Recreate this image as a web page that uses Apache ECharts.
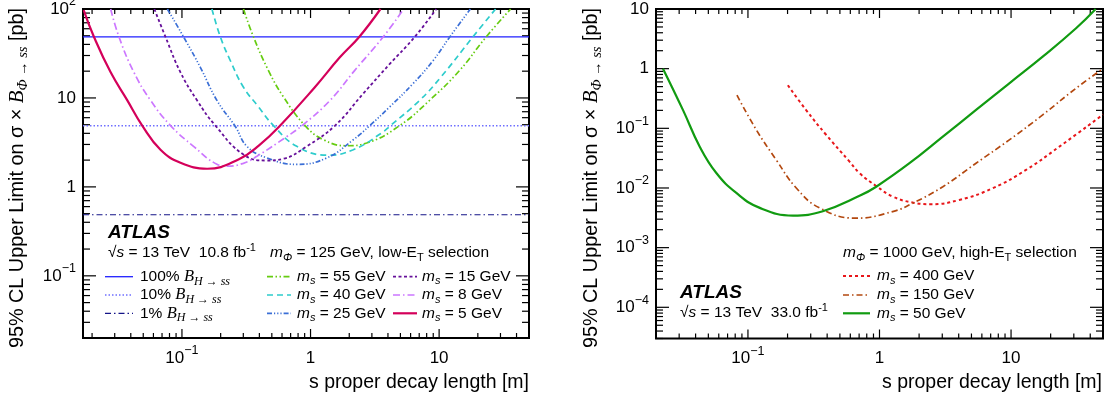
<!DOCTYPE html>
<html>
<head>
<meta charset="utf-8">
<script src="https://cdn.jsdelivr.net/npm/echarts@6.0.0/dist/echarts.min.js"></script>
<style>
html, body { margin: 0; padding: 0; background: #fff; }
#chart { width: 1112px; height: 403px; }
</style>
</head>
<body>
<div id="chart"></div>
<script>
const SANS = '"Liberation Sans", Arial, Helvetica, sans-serif';
const SERIF = '"Liberation Serif", "Times New Roman", serif';

// ---- plot frames
const lowGrid = { left: 83, top: 9, width: 446, height: 329 };
const highGrid = { left: 656, top: 9, width: 447, height: 329.5 };

// ---- axis ranges: s proper decay length [m] vs cross-section limit [pb]
const lowXRange = [0.017, 50];
const lowYRange = [0.02, 100];
const highXRange = [0.02, 50];
const highYRange = [3e-5, 10];

// ---- decade tick labels
const lowXTicks = [0.1, 1, 10];
const lowXLabels = ['{n|10}{sup|−1}', '{n|1}', '{n|10}'];
const lowYTicks = [0.1, 1, 10, 100];
const lowYLabels = ['{n|10}{sup|−1}', '{n|1}', '{n|10}', '{n|10}{sup|2}'];
const highXTicks = [0.1, 1, 10];
const highXLabels = ['{n|10}{sup|−1}', '{n|1}', '{n|10}'];
const highYTicks = [1e-4, 1e-3, 1e-2, 0.1, 1, 10];
const highYLabels = ['{n|10}{sup|−4}', '{n|10}{sup|−3}', '{n|10}{sup|−2}', '{n|10}{sup|−1}', '{n|1}', '{n|10}'];

// ---- SM Higgs reference: sigma x B(H->ss) for 100%, 10%, 1%
const higgsBrNames = ['B100', 'B10', 'B1'];
const higgsBrLimits = [48.6, 4.86, 0.486];

// ---- m_Phi = 125 GeV, low-ET selection
const ms55Len = [0.301, 0.36, 0.471, 0.615, 0.906, 1.26, 1.91, 2.73, 4.94, 8.43, 14.4, 23.2, 36];
const ms55Lim = [100, 48.5, 20.3, 10.3, 4.89, 3.39, 2.9, 3.11, 4.89, 9.4, 20.3, 48.5, 100];

const ms40Len = [0.171, 0.199, 0.238, 0.301, 0.394, 0.515, 0.782, 1.37, 2.15, 3.56, 4.19, 7.06, 10.3, 18.3, 27.5];
const ms40Lim = [100, 48.5, 26.2, 13.2, 7.94, 4.89, 2.86, 2.27, 2.62, 4.02, 4.89, 9.4, 17.1, 48.5, 100];

const ms25Len = [0.077, 0.103, 0.139, 0.187, 0.26, 0.32, 0.457, 0.782, 1.34, 2.15, 2.89, 4.13, 6.27, 8.96, 12.1, 17.5];
const ms25Lim = [100, 48.5, 22.1, 9.4, 4.77, 2.86, 2.12, 1.79, 2.12, 3.39, 4.89, 7.94, 14.5, 26.2, 48.5, 100];

const ms15Len = [0.061, 0.0745, 0.0974, 0.131, 0.182, 0.301, 0.457, 0.615, 0.935, 1.55, 2.57, 4.13, 6.46, 9.5];
const ms15Lim = [100, 48.5, 19.4, 9.4, 4.89, 2.31, 1.98, 2.07, 2.86, 4.89, 11.2, 24.1, 48.5, 100];

const ms8Len = [0.0279, 0.0324, 0.0423, 0.057, 0.0815, 0.123, 0.187, 0.224, 0.30, 0.383, 0.655, 0.86, 1.42, 2.2, 3.67, 5.3];
const ms8Lim = [100, 48.5, 19.4, 9.4, 4.89, 2.86, 1.8, 1.71, 1.84, 2.21, 3.69, 4.89, 9.4, 20.3, 48.5, 100];

const ms5Len = [0.0172, 0.0207, 0.0279, 0.0376, 0.0491, 0.0681, 0.0974, 0.157, 0.275, 0.4, 0.581, 1.08, 1.69, 2.39, 3.5];
const ms5Lim = [97, 48.5, 19.4, 9.4, 4.89, 2.62, 1.87, 1.60, 2.03, 2.95, 4.89, 13.2, 28.6, 48.5, 100];

// ---- m_Phi = 1000 GeV, high-ET selection
const ms400Len = [0.201, 0.277, 0.394, 0.592, 0.705, 0.944, 1.26, 1.79, 2.47, 4.04, 7.24, 13, 23.3, 50];
const ms400Lim = [0.527, 0.202, 0.0773, 0.0277, 0.0177, 0.0108, 0.00718, 0.00569, 0.00535, 0.0063, 0.0099, 0.0201, 0.0493, 0.17];

const ms150Len = [0.0825, 0.116, 0.164, 0.233, 0.35, 0.66, 1.26, 1.79, 3.03, 5.42, 9.7, 17.4, 31.2, 50];
const ms150Lim = [0.359, 0.0937, 0.0296, 0.01, 0.00464, 0.00312, 0.00402, 0.00556, 0.0105, 0.026, 0.064, 0.168, 0.47, 1.0];

const ms50Len = [0.0226, 0.0321, 0.043, 0.0575, 0.0816, 0.123, 0.22, 0.371, 0.705, 0.944, 1.69, 3.03, 5.42, 9.7, 17.4, 31.2, 44];
const ms50Lim = [1.0, 0.202, 0.0493, 0.0178, 0.00826, 0.00464, 0.00345, 0.00407, 0.00738, 0.0105, 0.026, 0.0726, 0.203, 0.569, 1.59, 4.75, 10];

// ---- line styles shared by the curves and their legend keys
const lineStyles = {
  B100: { color: '#1f1fff', dash: [], width: 1.3 },
  B10: { color: '#6f6fff', dash: [1.5, 2], width: 1.5 },
  B1: { color: '#141488', dash: [6, 3, 1.5, 3], width: 1.2 },
  ms55: { color: '#66cc11', dash: [6, 2.5, 1.5, 2.5, 1.5, 2.5], width: 1.7 },
  ms40: { color: '#2ecccc', dash: [6, 4], width: 1.7 },
  ms25: { color: '#3b6fd6', dash: [5, 2, 1.2, 2, 1.2, 2, 1.2, 2], width: 1.7 },
  ms15: { color: '#66109a', dash: [3, 2.5], width: 1.8 },
  ms8: { color: '#cc77ff', dash: [7, 3, 1.5, 3], width: 1.7 },
  ms5: { color: '#d4005a', dash: [], width: 2.2 },
  ms400: { color: '#e8161a', dash: [3, 3], width: 2 },
  ms150: { color: '#b3480f', dash: [6, 3, 1.5, 3], width: 1.7 },
  ms50: { color: '#119b11', dash: [], width: 2.2 }
};

function pairs(xs, ys) { return xs.map((x, i) => [x, ys[i]]); }

function decadeFormatter(ticks, labels) {
  return function (v) {
    const i = ticks.findIndex(t => Math.abs(Math.log10(v) - Math.log10(t)) < 1e-6);
    return i < 0 ? '' : labels[i];
  };
}

// 1..9 x 10^n positions inside a range (major at 1 x 10^n)
function decadeSteps(range) {
  const out = [];
  const lo = range[0], hi = range[1];
  for (let e = Math.floor(Math.log10(lo)); e <= Math.ceil(Math.log10(hi)); e++) {
    for (let m = 1; m <= 9; m++) {
      const v = m * Math.pow(10, e);
      if (v >= lo * (1 - 1e-9) && v <= hi * (1 + 1e-9)) out.push({ v: v, major: m === 1 });
    }
  }
  return out;
}

const labelRich = {
  n: { fontSize: 17, fontFamily: SANS, color: '#000', lineHeight: 20, verticalAlign: 'middle' },
  sup: { fontSize: 12.5, fontFamily: SANS, color: '#000', lineHeight: 20, verticalAlign: 'middle', padding: [0, 0, 14, 0] }
};

function logAxis(isX, idx, range, ticks, labels) {
  return {
    gridIndex: idx, type: 'log', logBase: 10, min: range[0], max: range[1],
    axisLine: { show: false, onZero: false }, axisTick: { show: false }, splitLine: { show: false },
    axisLabel: { show: true, formatter: decadeFormatter(ticks, labels), margin: isX ? 10 : 7, rich: labelRich, color: '#000' }
  };
}

function gridOf(g) {
  return Object.assign({ show: true, borderColor: '#000', borderWidth: 2, outerBoundsMode: 'none' }, g);
}

function curve(name, idx, xs, ys) {
  const s = lineStyles[name];
  return {
    name: name, type: 'line', xAxisIndex: idx, yAxisIndex: idx,
    data: pairs(xs, ys), symbol: 'none', smooth: 0.45, silent: true,
    lineStyle: { color: s.color, width: s.width, type: s.dash.length ? s.dash : 'solid' }, itemStyle: { color: s.color }
  };
}

function levelLine(i) {
  const s = lineStyles[higgsBrNames[i]];
  return {
    name: higgsBrNames[i], type: 'line', xAxisIndex: 0, yAxisIndex: 0,
    data: [[lowXRange[0], higgsBrLimits[i]], [lowXRange[1], higgsBrLimits[i]]],
    symbol: 'none', silent: true,
    lineStyle: { color: s.color, width: s.width, type: s.dash.length ? s.dash : 'solid' }, itemStyle: { color: s.color }
  };
}

const legendText = {
  B100: '{t|100% }{bi|B}{bs|H → ss}',
  B10: '{t|10% }{bi|B}{bs|H → ss}',
  B1: '{t|1% }{bi|B}{bs|H → ss}',
  ms55: '{i|m}{is|s}{t| = 55 GeV}',
  ms40: '{i|m}{is|s}{t| = 40 GeV}',
  ms25: '{i|m}{is|s}{t| = 25 GeV}',
  ms15: '{i|m}{is|s}{t| = 15 GeV}',
  ms8: '{i|m}{is|s}{t| = 8 GeV}',
  ms5: '{i|m}{is|s}{t| = 5 GeV}',
  ms400: '{i|m}{is|s}{t| = 400 GeV}',
  ms150: '{i|m}{is|s}{t| = 150 GeV}',
  ms50: '{i|m}{is|s}{t| = 50 GeV}'
};

// rich text for the annotations and legend entries
const noteRich = {
  t: { fontSize: 15.5, fontFamily: SANS, fill: '#000', lineHeight: 18, verticalAlign: 'middle' },
  i: { fontSize: 15.5, fontFamily: SANS, fontStyle: 'italic', fill: '#000', lineHeight: 18, verticalAlign: 'middle' },
  is: { fontSize: 11, fontFamily: SANS, fontStyle: 'italic', fill: '#000', lineHeight: 18, verticalAlign: 'middle', padding: [9, 0, 0, 0] },
  ss: { fontSize: 11, fontFamily: SANS, fill: '#000', lineHeight: 18, verticalAlign: 'middle', padding: [10, 0, 0, 0] },
  sp: { fontSize: 11, fontFamily: SANS, fill: '#000', lineHeight: 18, verticalAlign: 'middle', padding: [0, 0, 10, 0] },
  bi: { fontSize: 16.5, fontFamily: SERIF, fontStyle: 'italic', fill: '#000', lineHeight: 18, verticalAlign: 'middle' },
  bs: { fontSize: 12, fontFamily: SERIF, fontStyle: 'italic', fill: '#000', lineHeight: 18, verticalAlign: 'middle', padding: [10, 0, 0, 0] }
};
const titleRich = {
  t: { fontSize: 19.8, fontFamily: SANS, fill: '#000', lineHeight: 22, verticalAlign: 'middle' },
  bi: { fontSize: 20.8, fontFamily: SERIF, fontStyle: 'italic', fill: '#000', lineHeight: 22, verticalAlign: 'middle' },
  bs: { fontSize: 14.5, fontFamily: SERIF, fontStyle: 'italic', fill: '#000', lineHeight: 22, verticalAlign: 'middle', padding: [11, 0, 0, 0] }
};
const yTitle = '{t|95% CL Upper Limit on σ × }{bi|B}{bs|Φ → ss}{t| [pb]}';

function note(x, y, text) {
  return {
    type: 'text', x: x, y: y, silent: true,
    style: { text: text, rich: noteRich, fill: '#000', fontFamily: SANS, fontSize: 15.5, align: 'left', verticalAlign: 'middle' }
  };
}
function atlas(x, y) {
  return { type: 'text', x: x, y: y, silent: true,
    style: { text: 'ATLAS', fill: '#000', fontFamily: SANS, fontSize: 19, fontWeight: 'bold', fontStyle: 'italic', align: 'left', verticalAlign: 'middle' } };
}
function xTitle(x) {
  return { type: 'text', x: x, y: 383, silent: true,
    style: { text: 's proper decay length [m]', fill: '#000', fontFamily: SANS, fontSize: 19.5, align: 'right', verticalAlign: 'middle' } };
}
function yTitleEl(x) {
  return { type: 'text', x: x, y: 8, rotation: Math.PI / 2, silent: true,
    style: { text: yTitle, rich: titleRich, fill: '#000', fontFamily: SANS, fontSize: 19.8, align: 'right', verticalAlign: 'middle' } };
}

// legend key: a short line sample followed by its label
function legendKey(name, x1, x2, textX, y) {
  const s = lineStyles[name];
  return [
    { type: 'line', silent: true, shape: { x1: x1, y1: y, x2: x2, y2: y },
      style: { stroke: s.color, lineWidth: s.width, lineDash: s.dash.length ? s.dash : null } },
    note(textX, y, legendText[name])
  ];
}
function legendColumn(names, x1, x2, textX, rows) {
  let els = [];
  names.forEach((n, i) => { els = els.concat(legendKey(n, x1, x2, textX, rows[i])); });
  return els;
}
const lowRows = [276.7, 295, 313.3];
const highRows = [276, 295, 313.3];

const chart = echarts.init(document.getElementById('chart'));
chart.setOption({
  animation: false,
  grid: [gridOf(lowGrid), gridOf(highGrid)],
  xAxis: [logAxis(true, 0, lowXRange, lowXTicks, lowXLabels), logAxis(true, 1, highXRange, highXTicks, highXLabels)],
  yAxis: [logAxis(false, 0, lowYRange, lowYTicks, lowYLabels), logAxis(false, 1, highYRange, highYTicks, highYLabels)],
  series: [
    levelLine(0), levelLine(1), levelLine(2),
    curve('ms55', 0, ms55Len, ms55Lim),
    curve('ms40', 0, ms40Len, ms40Lim),
    curve('ms25', 0, ms25Len, ms25Lim),
    curve('ms15', 0, ms15Len, ms15Lim),
    curve('ms8', 0, ms8Len, ms8Lim),
    curve('ms5', 0, ms5Len, ms5Lim),
    curve('ms400', 1, ms400Len, ms400Lim),
    curve('ms150', 1, ms150Len, ms150Lim),
    curve('ms50', 1, ms50Len, ms50Lim)
  ]
});

// inward ticks on all four sides of a frame, placed through the grid's log scales
function tickMarks(g, xRange, yRange) {
  const toPx = v => chart.convertToPixel({ gridIndex: g }, v);
  const lb = toPx([xRange[0], yRange[0]]);
  const rt = toPx([xRange[1], yRange[1]]);
  const seg = (x1, y1, x2, y2) => ({ type: 'line', silent: true,
    shape: { x1: x1, y1: y1, x2: x2, y2: y2 }, style: { stroke: '#000', lineWidth: 1.2 } });
  const els = [];
  decadeSteps(xRange).forEach(s => {
    const px = toPx([s.v, yRange[0]])[0];
    const len = s.major ? 9 : 5;
    els.push(seg(px, lb[1], px, lb[1] - len), seg(px, rt[1], px, rt[1] + len));
  });
  decadeSteps(yRange).forEach(s => {
    const py = toPx([xRange[0], s.v])[1];
    const len = s.major ? 13 : 7;
    els.push(seg(lb[0], py, lb[0] + len, py), seg(rt[0], py, rt[0] - len, py));
  });
  return els;
}

chart.setOption({
  graphic: { elements: tickMarks(0, lowXRange, lowYRange)
    .concat(tickMarks(1, highXRange, highYRange))
    .concat([
      yTitleEl(17.5),
      yTitleEl(591.5),
      xTitle(529),
      xTitle(1102),
      atlas(108, 233),
      note(108, 253, '{t|√}{i|s}{t| = 13 TeV  10.8 fb}{sp|-1}'),
      note(270, 253, '{i|m}{is|Φ}{t| = 125 GeV, low-E}{ss|T}{t| selection}'),
      note(843, 253, '{i|m}{is|Φ}{t| = 1000 GeV, high-E}{ss|T}{t| selection}'),
      atlas(680, 293),
      note(680, 313, '{t|√}{i|s}{t| = 13 TeV  33.0 fb}{sp|-1}')
    ])
    .concat(legendColumn(['B100', 'B10', 'B1'], 105, 133, 140, lowRows))
    .concat(legendColumn(['ms55', 'ms40', 'ms25'], 267, 291, 297, lowRows))
    .concat(legendColumn(['ms15', 'ms8', 'ms5'], 393, 417, 422, lowRows))
    .concat(legendColumn(['ms400', 'ms150', 'ms50'], 843, 870, 877, highRows))
  }
});
</script>
</body>
</html>
